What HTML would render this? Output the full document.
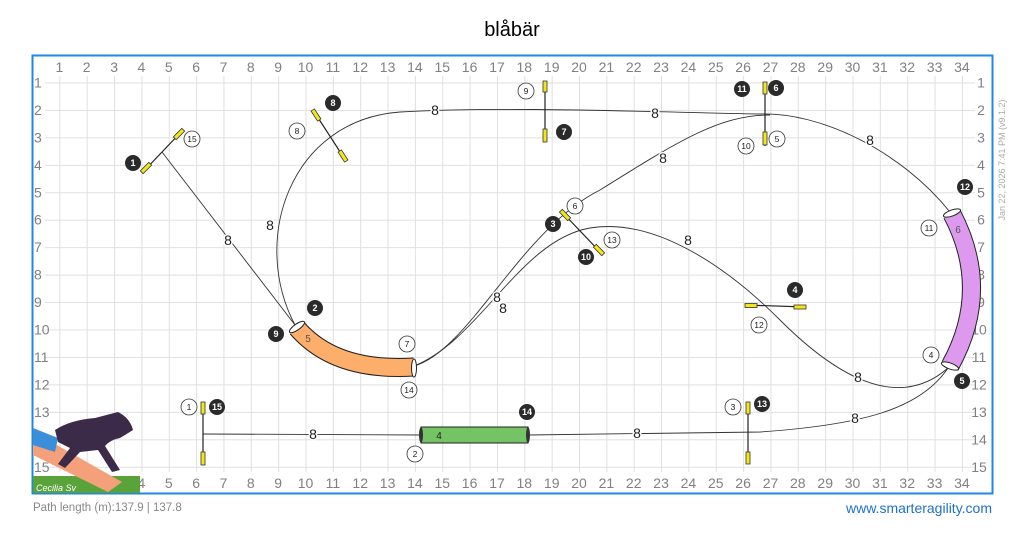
<!DOCTYPE html>
<html><head><meta charset="utf-8"><style>
html,body{margin:0;padding:0;background:#fff;}
body{width:1024px;height:539px;overflow:hidden;position:relative;font-family:"Liberation Sans",sans-serif;}
</style></head><body>
<svg width="1024" height="539" viewBox="0 0 1024 539" xmlns="http://www.w3.org/2000/svg" font-family="Liberation Sans, sans-serif">
<defs>
<pattern id="gp" patternUnits="userSpaceOnUse" x="32" y="55" width="27.35" height="27.45">
<path d="M0,0 V27.45 M0,0 H27.35" fill="none" stroke="#e0e0e0" stroke-width="2"/>
</pattern>
</defs>
<text x="512" y="36" font-size="20" text-anchor="middle" fill="#000">blåbär</text>
<rect x="45" y="76" width="930" height="396" fill="url(#gp)"/>
<g font-size="14" fill="#808080" text-anchor="middle">
<text x="59.4" y="72">1</text><text x="86.7" y="72">2</text><text x="114.1" y="72">3</text><text x="141.4" y="72">4</text><text x="168.8" y="72">5</text><text x="196.1" y="72">6</text><text x="223.5" y="72">7</text><text x="250.8" y="72">8</text><text x="278.2" y="72">9</text><text x="305.5" y="72">10</text><text x="332.9" y="72">11</text><text x="360.2" y="72">12</text><text x="387.6" y="72">13</text><text x="414.9" y="72">14</text><text x="442.3" y="72">15</text><text x="469.6" y="72">16</text><text x="497" y="72">17</text><text x="524.3" y="72">18</text><text x="551.7" y="72">19</text><text x="579" y="72">20</text><text x="606.4" y="72">21</text><text x="633.7" y="72">22</text><text x="661.1" y="72">23</text><text x="688.4" y="72">24</text><text x="715.8" y="72">25</text><text x="743.1" y="72">26</text><text x="770.5" y="72">27</text><text x="797.8" y="72">28</text><text x="825.2" y="72">29</text><text x="852.5" y="72">30</text><text x="879.9" y="72">31</text><text x="907.2" y="72">32</text><text x="934.6" y="72">33</text><text x="961.9" y="72">34</text>
<text x="59.4" y="488">1</text><text x="86.7" y="488">2</text><text x="114.1" y="488">3</text><text x="141.4" y="488">4</text><text x="168.8" y="488">5</text><text x="196.1" y="488">6</text><text x="223.5" y="488">7</text><text x="250.8" y="488">8</text><text x="278.2" y="488">9</text><text x="305.5" y="488">10</text><text x="332.9" y="488">11</text><text x="360.2" y="488">12</text><text x="387.6" y="488">13</text><text x="414.9" y="488">14</text><text x="442.3" y="488">15</text><text x="469.6" y="488">16</text><text x="497" y="488">17</text><text x="524.3" y="488">18</text><text x="551.7" y="488">19</text><text x="579" y="488">20</text><text x="606.4" y="488">21</text><text x="633.7" y="488">22</text><text x="661.1" y="488">23</text><text x="688.4" y="488">24</text><text x="715.8" y="488">25</text><text x="743.1" y="488">26</text><text x="770.5" y="488">27</text><text x="797.8" y="488">28</text><text x="825.2" y="488">29</text><text x="852.5" y="488">30</text><text x="879.9" y="488">31</text><text x="907.2" y="488">32</text><text x="934.6" y="488">33</text><text x="961.9" y="488">34</text>
</g>
<g font-size="14" fill="#808080">
<text x="34" y="87.5">1</text><text x="34" y="114.9">2</text><text x="34" y="142.4">3</text><text x="34" y="169.8">4</text><text x="34" y="197.3">5</text><text x="34" y="224.7">6</text><text x="34" y="252.2">7</text><text x="34" y="279.6">8</text><text x="34" y="307">9</text><text x="34" y="334.5">10</text><text x="34" y="361.9">11</text><text x="34" y="389.4">12</text><text x="34" y="416.9">13</text><text x="34" y="444.3">14</text><text x="34" y="471.8">15</text>
</g>
<g font-size="14" fill="#808080" text-anchor="middle">
<text x="981" y="87.5">1</text><text x="981" y="114.9">2</text><text x="981" y="142.4">3</text><text x="981" y="169.8">4</text><text x="981" y="197.3">5</text><text x="981" y="224.7">6</text><text x="981" y="252.2">7</text><text x="981" y="279.6">8</text><text x="981" y="307">9</text><text x="979" y="334.5">10</text><text x="979" y="361.9">11</text><text x="979" y="389.4">12</text><text x="979" y="416.9">13</text><text x="979" y="444.3">14</text><text x="979" y="471.8">15</text>
</g>
<rect x="32.5" y="55.5" width="960" height="438" fill="none" stroke="#1e88e5" stroke-width="2"/>
<text transform="translate(1005,160) rotate(-90)" font-size="9" fill="#aaa" text-anchor="middle">Jan 22, 2026 7:41 PM  (v9.1.2)</text>

<g>
<rect x="33" y="476" width="107" height="17" fill="#5aa33a"/>
<polygon points="33,440 33,455 108,492 122,482 48,440" fill="#f4a07a"/>
<polygon points="33,428 33,445 55,452 58,438" fill="#3a8fd8"/>
<path d="M55,430 Q70,420 95,418 L118,412 Q130,418 133,430 L120,438 Q110,440 105,446 L120,470 L112,472 L98,450 L80,452 L65,468 L58,464 L70,448 L58,442 Z" fill="#3b2a48"/>
<text x="36" y="491" font-size="9" fill="#fff" font-style="italic">Cecilia Sv</text>
</g>

<g fill="none" stroke="#333" stroke-width="0.9">
<line x1="162" y1="152" x2="295" y2="325"/>
<path d="M295,325 C250,240 290,120 400,112 C500,106 650,112 760,114 C820,112 900,150 950,212"/>
<path d="M414,366 C470,350 520,230 600,190 C680,140 720,115 770,115"/>
<path d="M414,366 C480,340 520,240 590,228 C650,218 720,260 780,320 C840,380 900,410 948,368"/>
<path d="M948,368 C920,410 860,425 760,432 L528,435"/>
<line x1="421" y1="435" x2="203" y2="434"/>
</g>

<g stroke="#222" stroke-width="1.2">
<line x1="142" y1="173" x2="183" y2="130"/>
<line x1="313" y1="110" x2="346" y2="161"/>
<line x1="545" y1="81" x2="545" y2="142"/>
<line x1="765" y1="82" x2="765" y2="146"/>
<line x1="561" y1="211" x2="603" y2="255"/>
<line x1="745" y1="305" x2="806" y2="307"/>
<line x1="748" y1="402" x2="748" y2="464"/>
<line x1="203" y1="402" x2="203" y2="465"/>
</g>
<g fill="#f5e61b" stroke="#333" stroke-width="0.8">
<rect x="-2" y="-6" width="4" height="12" transform="translate(146,168) rotate(45)"/>
<rect x="-2" y="-6" width="4" height="12" transform="translate(179,134) rotate(45)"/>
<rect x="-2" y="-6" width="4" height="12" transform="translate(316,115) rotate(-33)"/>
<rect x="-2" y="-6" width="4" height="12" transform="translate(343,156) rotate(-33)"/>
<rect x="543" y="81" width="4" height="11"/><rect x="543" y="129" width="4" height="13"/>
<rect x="763" y="82" width="4" height="12"/><rect x="763" y="132" width="4" height="13"/>
<rect x="-2" y="-6" width="4" height="12" transform="translate(565,215) rotate(-44)"/>
<rect x="-2" y="-6" width="4" height="12" transform="translate(599,250) rotate(-44)"/>
<rect x="745" y="303.5" width="12" height="4"/><rect x="794" y="305" width="12" height="4"/>
<rect x="746" y="402" width="4" height="12"/><rect x="746" y="452" width="4" height="12"/>
<rect x="201" y="402" width="4" height="12"/><rect x="201" y="452" width="4" height="13"/>
</g>

<path d="M297,328 Q335,372 414,367" fill="none" stroke="#222" stroke-width="19"/>
<path d="M297,328 Q335,372 414,367" fill="none" stroke="#fdae6b" stroke-width="17"/>
<ellipse cx="297" cy="327" rx="9" ry="3" transform="rotate(-35 297 327)" fill="#fff" stroke="#222"/>
<ellipse cx="414" cy="368" rx="2.5" ry="9" fill="#fff" stroke="#222"/>
<text x="308" y="342" font-size="10" fill="#555" text-anchor="middle">5</text>

<path d="M952,214 Q992,290 950,366" fill="none" stroke="#222" stroke-width="19"/>
<path d="M952,214 Q992,290 950,366" fill="none" stroke="#dd99ee" stroke-width="17"/>
<ellipse cx="952" cy="213" rx="9" ry="3" transform="rotate(-20 952 213)" fill="#fff" stroke="#222"/>
<ellipse cx="950" cy="366" rx="9" ry="3" transform="rotate(20 950 366)" fill="#fff" stroke="#222"/>
<text x="958" y="233" font-size="10" fill="#555" text-anchor="middle">6</text>

<rect x="421" y="427" width="107" height="16" fill="#74c365" stroke="#222"/>
<ellipse cx="421" cy="435" rx="2" ry="8" fill="#333"/>
<ellipse cx="528" cy="435" rx="2" ry="8" fill="#333"/>
<text x="439" y="439" font-size="10" fill="#222" text-anchor="middle">4</text>

<g font-size="14" fill="#222" text-anchor="middle" stroke="#fff" stroke-width="3" paint-order="stroke">
<text x="228" y="245">8</text><text x="270" y="230">8</text><text x="435" y="115">8</text>
<text x="655" y="118">8</text><text x="663" y="163">8</text><text x="870" y="145">8</text>
<text x="497" y="302">8</text><text x="503" y="313">8</text><text x="688" y="245">8</text>
<text x="858" y="382">8</text><text x="855" y="423">8</text><text x="637" y="438">8</text>
<text x="313" y="439">8</text>
</g>

<g font-size="9" font-weight="bold" text-anchor="middle">
<g fill="#2a2a2a">
<circle cx="133" cy="163" r="8"/><circle cx="333" cy="103" r="8"/><circle cx="564" cy="132" r="8"/>
<circle cx="742" cy="89" r="8"/><circle cx="776" cy="88" r="8"/><circle cx="315" cy="308" r="8"/>
<circle cx="276" cy="334" r="8"/><circle cx="965" cy="187" r="8"/><circle cx="962" cy="381" r="8"/>
<circle cx="553" cy="224" r="8"/><circle cx="586" cy="257" r="8"/><circle cx="795" cy="290" r="8"/>
<circle cx="762" cy="404" r="8"/><circle cx="217" cy="407" r="8"/><circle cx="527" cy="412" r="8"/>
</g>
<g fill="#fff">
<text x="133" y="166">1</text><text x="333" y="106">8</text><text x="564" y="135">7</text>
<text x="742" y="92">11</text><text x="776" y="91">6</text><text x="315" y="311">2</text>
<text x="276" y="337">9</text><text x="965" y="190">12</text><text x="962" y="384">5</text>
<text x="553" y="227">3</text><text x="586" y="260">10</text><text x="795" y="293">4</text>
<text x="762" y="407">13</text><text x="217" y="410">15</text><text x="527" y="415">14</text>
</g>
</g>
<g font-size="8.5" text-anchor="middle">
<g fill="#fff" stroke="#333" stroke-width="0.8">
<circle cx="192" cy="139" r="8"/><circle cx="297" cy="131" r="8"/><circle cx="526" cy="91" r="8"/>
<circle cx="746" cy="146" r="8"/><circle cx="777" cy="139" r="8"/><circle cx="407" cy="344" r="8"/>
<circle cx="409" cy="390" r="8"/><circle cx="929" cy="228" r="8"/><circle cx="931" cy="355" r="8"/>
<circle cx="575" cy="206" r="8"/><circle cx="612" cy="240" r="8"/><circle cx="759" cy="325" r="8"/>
<circle cx="733" cy="407" r="8"/><circle cx="189" cy="407" r="8"/><circle cx="415" cy="454" r="8"/>
</g>
<g fill="#222">
<text x="192" y="142">15</text><text x="297" y="134">8</text><text x="526" y="94">9</text>
<text x="746" y="149">10</text><text x="777" y="142">5</text><text x="407" y="347">7</text>
<text x="409" y="393">14</text><text x="929" y="231">11</text><text x="931" y="358">4</text>
<text x="575" y="209">6</text><text x="612" y="243">13</text><text x="759" y="328">12</text>
<text x="733" y="410">3</text><text x="189" y="410">1</text><text x="415" y="457">2</text>
</g>
</g>

<text x="33" y="511" font-size="11.5" fill="#888">Path length (m):137.9 | 137.8</text>
<text x="992" y="513" font-size="14" fill="#1e6fd0" text-anchor="end">www.smarteragility.com</text>
</svg>
</body></html>
